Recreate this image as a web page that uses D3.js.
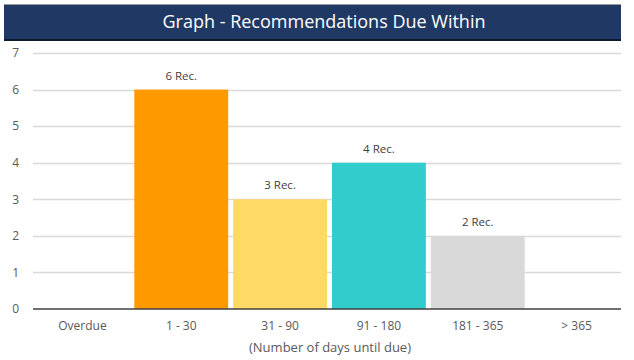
<!DOCTYPE html>
<html><head><meta charset="utf-8">
<script src="https://cdn.jsdelivr.net/npm/d3@7"></script>
<style>
html,body{margin:0;padding:0;background:#fff;}
svg{display:block;font-family:"Open Sans",sans-serif;}
</style></head>
<body><svg id="c" width="634" height="360"></svg>
<script>
const categories = ["Overdue","1 - 30","31 - 90","91 - 180","181 - 365","> 365"];
const values = [0,6,3,4,2,0];
const labels = ["","6 Rec.","3 Rec.","4 Rec.","2 Rec.",""];
const colors = ["#FF9900","#FF9900","#FFD966","#33CCCC","#D9D9D9","#D9D9D9"];
const yTicks = [0,1,2,3,4,5,6,7];
const titleText = "Graph - Recommendations Due Within";
const axisTitle = "(Number of days until due)";

(function(){
const svg = d3.select("#c");
const pLeft = 33, pRight = 626, gridRight = 621, pTop = 53, pBottom = 309;

const x = d3.scaleBand().domain(categories).range([pLeft, pRight]).paddingInner(0.05).paddingOuter(0.025);
const y = d3.scaleLinear().domain([0,7]).range([pBottom, pTop]);

// title bar
svg.append("rect").attr("x",4).attr("y",4).attr("width",gridRight-4).attr("height",1).attr("fill","#9a9a9a");
svg.append("rect").attr("x",4).attr("y",5).attr("width",gridRight-4).attr("height",34).attr("fill","#1F3864");
svg.append("rect").attr("x",4).attr("y",39).attr("width",gridRight-4).attr("height",2).attr("fill","#0d1a2e");
svg.append("text").attr("x",324).attr("y",28).attr("text-anchor","middle")
  .attr("fill","#ffffff").attr("font-size",18).text(titleText);

// gridlines
svg.append("g").selectAll("line").data(yTicks.filter(d=>d>0)).join("line")
  .attr("x1",pLeft).attr("x2",gridRight).attr("y1",d=>Math.round(y(d))+0.5).attr("y2",d=>Math.round(y(d))+0.5)
  .attr("stroke","#D9D9D9").attr("stroke-width",1.5);

// y axis labels
const yAxis = d3.axisLeft(y).tickValues(yTicks).tickSize(0).tickPadding(0).tickFormat(d3.format("d"));
const ya = svg.append("g").attr("transform",`translate(19,0)`).call(yAxis);
ya.select(".domain").remove();
ya.selectAll("text").attr("fill","#595959").attr("font-size",12).attr("font-family","Open Sans");

// bars
svg.append("g").selectAll("rect").data(values).join("rect")
  .attr("x",(d,i)=>x(categories[i])).attr("width",x.bandwidth())
  .attr("y",d=>y(d)).attr("height",d=>pBottom-y(d))
  .attr("fill",(d,i)=>colors[i]);

// data labels
svg.append("g").selectAll("text").data(values).join("text")
  .attr("x",(d,i)=>x(categories[i])+x.bandwidth()/2).attr("y",d=>y(d)-10)
  .attr("text-anchor","middle").attr("fill","#404040").attr("font-size",11.5)
  .text((d,i)=>labels[i]);

// x axis
const xAxis = d3.axisBottom(x).tickSize(0).tickPadding(12);
const xa = svg.append("g").attr("transform",`translate(0,${pBottom})`).call(xAxis);
xa.select(".domain").remove();
xa.selectAll("text").attr("fill","#595959").attr("font-size",12).attr("font-family","Open Sans");
svg.append("line").attr("x1",pLeft).attr("x2",gridRight).attr("y1",pBottom).attr("y2",pBottom)
  .attr("stroke","#404040").attr("stroke-width",1.5);

svg.append("text").attr("x",330).attr("y",352).attr("text-anchor","middle")
  .attr("fill","#595959").attr("font-size",13).text(axisTitle);
})();
</script></body></html>
